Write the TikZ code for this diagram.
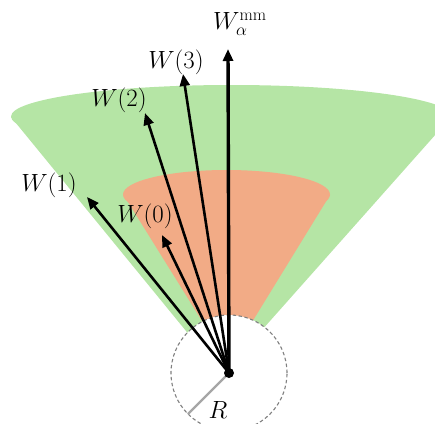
\documentclass[tikz,border=0pt]{standalone}
\usetikzlibrary{arrows.meta}
\definecolor{conegreen}{HTML}{B5E5A5}
\definecolor{coneorange}{HTML}{F2AB86}
\begin{document}
\begin{tikzpicture}[x=1pt,y=-1pt,
  vec/.style={line width=2.6pt,-{Triangle[length=12pt,width=10pt]}},
  vecmain/.style={line width=3.4pt,-{Triangle[length=12pt,width=10pt]}},
  lab/.style={font=\fontsize{24}{28}\selectfont, inner sep=0pt}]
\useasboundingbox (0,0) rectangle (435,423);
\clip (0,0) rectangle (435,423);
\coordinate (c) at (229,373);
% cones
\fill[conegreen] (222,375) -- (11,117) -- (452,116) -- cycle;
\fill[conegreen] (231.5,116.5) ellipse [x radius=220.5pt, y radius=31.5pt];
\fill[coneorange] (227.5,362) -- (123,194) -- (330,195) -- cycle;
\fill[coneorange] (226.5,194.5) ellipse [x radius=103.5pt, y radius=24.5pt];
% ball
\fill[white] (c) circle[radius=58pt];
\draw[gray, dash pattern=on 3.5pt off 2.5pt, line width=1.1pt] (c) circle[radius=58pt];
\coordinate (rend) at ([shift={(225:58pt)}]c);
\draw[line width=2.2pt, black!35] (c) -- (rend);
% vectors
\coordinate (tmm) at (228,49);
\coordinate (t3) at (183,74);
\coordinate (t2) at (145,113);
\coordinate (t1) at (87,197);
\coordinate (t0) at (162,235);
\draw[vec] (c) -- (t0);
\draw[vec] (c) -- (t1);
\draw[vec] (c) -- (t2);
\draw[vec] (c) -- (t3);
\draw[vecmain] (c) -- (tmm);
\fill (c) circle[radius=5pt];
% labels
\node[lab] (lmm) at (240,24) {$W_\alpha^{\mathrm{mm}}$};
\node[lab] (l3) at (176,62) {$W(3)$};
\node[lab] (l2) at (119,100) {$W(2)$};
\node[lab] (l1) at (49,185) {$W(1)$};
\node[lab] (l0) at (145,216) {$W(0)$};
\node[lab] (lr) at (218,410) {$R$};
\end{tikzpicture}
\end{document}
